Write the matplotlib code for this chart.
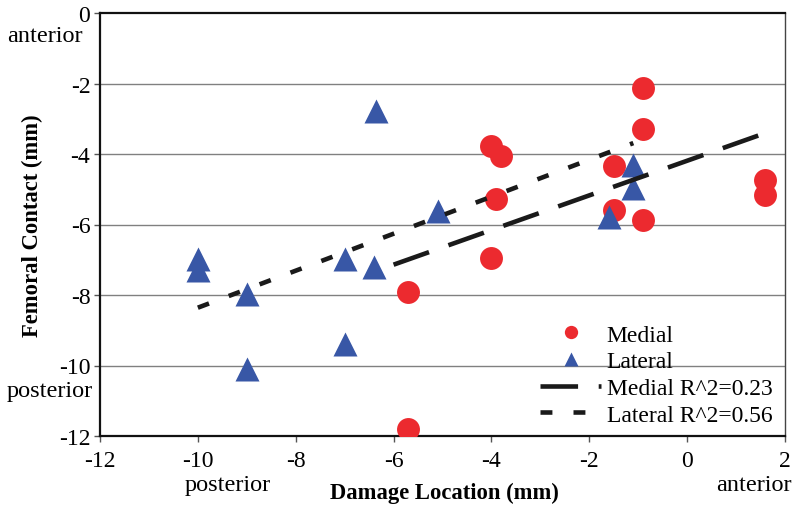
import numpy as np
import matplotlib
matplotlib.use("Agg")
import matplotlib.pyplot as plt

plt.rcParams['font.family'] = ['Liberation Serif', 'DejaVu Serif']

# medial damage points (x = damage location, y = femoral contact), mm
medial_x = [-0.9, -0.9, -4.0, -3.8, -1.5, 1.6, 1.6, -3.9, -1.5, -0.9, -4.0, -5.7, -5.7]
medial_y = [-2.13, -3.29, -3.76, -4.06, -4.33, -4.75, -5.16, -5.27, -5.59, -5.86, -6.96, -7.92, -11.8]

# lateral damage points
lateral_x = [-6.35, -5.1, -1.1, -1.1, -1.6, -10.0, -10.0, -9.0, -7.0, -6.4, -7.0, -9.0]
lateral_y = [-2.77, -5.62, -4.30, -4.97, -5.79, -6.97, -7.30, -7.97, -6.97, -7.21, -9.38, -10.09]

# trend lines (endpoints)
medial_fit_x = [-6.0, 1.61]
medial_fit_y = [-7.14, -3.40]
lateral_fit_x = [-10.0, -1.1]
lateral_fit_y = [-8.36, -3.69]

xticks = [-12, -10, -8, -6, -4, -2, 0, 2]
yticks = [0, -2, -4, -6, -8, -10, -12]

W, H = 794, 506
fig = plt.figure(figsize=(W / 100, H / 100), dpi=100)
ax = fig.add_axes([100 / W, 1 - 437 / H, (785 - 100) / W, (437 - 14) / H])

red = '#EC2A2F'
blue = '#3857A6'
fs = 17

for yv in [-2, -4, -6, -8, -10]:
    ax.axhline(yv, color='#808080', lw=1.0, zorder=1)

ax.plot(medial_x, medial_y, 'o', ms=16.5, color=red, mec='none', label='Medial', zorder=3)
ax.plot(lateral_x, lateral_y, '^', ms=17.5, color=blue, mec='none', label='Lateral', zorder=3)
ax.plot(medial_fit_x, medial_fit_y, color='#1a1a1a', lw=3.3, dashes=(8.2, 4.5),
        solid_capstyle='butt', dash_capstyle='butt', label='Medial R^2=0.23', zorder=4)
ax.plot(lateral_fit_x, lateral_fit_y, color='#1a1a1a', lw=3.3, dashes=(2.6, 4.6),
        dash_capstyle='butt', label='Lateral R^2=0.56', zorder=4)

ax.set_xlim(-12, 2)
ax.set_ylim(-12, 0)
ax.set_xticks(xticks)
ax.set_yticks(yticks)
ax.set_xticklabels([str(v) for v in xticks])
ax.set_yticklabels([str(v) for v in yticks])
ax.tick_params(axis='both', direction='out', length=4, width=1, color='#555555',
               labelsize=fs)
ax.tick_params(axis='x', pad=6)
ax.tick_params(axis='y', pad=3)

for s in ['left', 'top', 'bottom']:
    ax.spines[s].set_linewidth(1.6)
    ax.spines[s].set_color('#111111')
ax.spines['right'].set_linewidth(1.0)
ax.spines['right'].set_color('#444444')

ax.set_xlabel('Damage Location (mm)', fontsize=16.3, fontweight='bold', labelpad=0)
ax.set_ylabel('Femoral Contact (mm)', fontsize=16.3, fontweight='bold')
ax.xaxis.set_label_coords((444 - 100) / (785 - 100), -(493 - 437) / (437 - 14))
ax.yaxis.set_label_coords(-(100 - 32) / (785 - 100), 0.5)
ax.xaxis.label.set_va('center')
ax.yaxis.label.set_va('center')

fig.text(45 / W, 1 - 37 / H, 'anterior', fontsize=fs + 0.5, ha='center', va='center')
fig.text(50 / W, 1 - 392 / H, 'posterior', fontsize=fs + 0.5, ha='center', va='center')
fig.text(228 / W, 1 - 486 / H, 'posterior', fontsize=fs + 0.5, ha='center', va='center')
fig.text(754 / W, 1 - 486 / H, 'anterior', fontsize=fs + 0.5, ha='center', va='center')

leg = ax.legend(loc='upper left', bbox_to_anchor=(540 / W, 1 - 325 / H),
                bbox_transform=fig.transFigure, frameon=False, fontsize=fs,
                markerscale=0.58, handlelength=2.6, handletextpad=0.22,
                labelspacing=0.22, borderpad=0, borderaxespad=0)

fig.savefig('out.png', dpi=100)
